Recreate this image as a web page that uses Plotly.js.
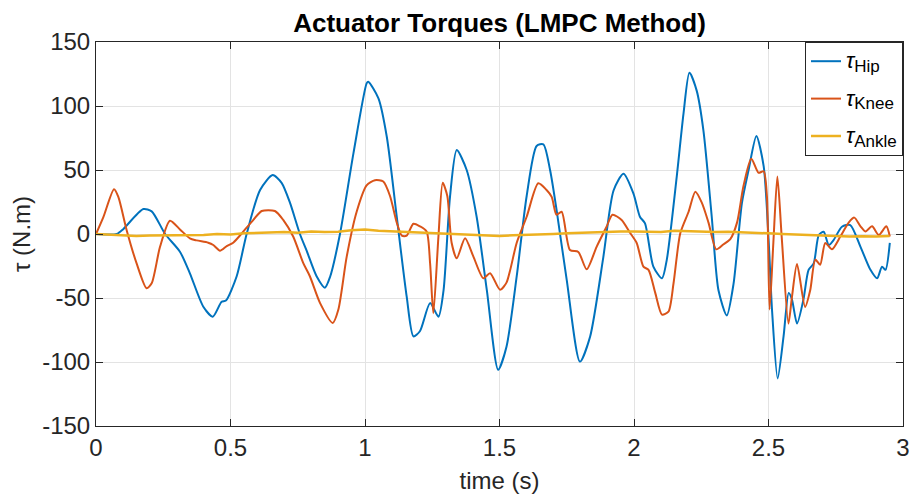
<!DOCTYPE html>
<html>
<head>
<meta charset="utf-8">
<script src="https://cdn.plot.ly/plotly-3.0.1.min.js"></script>
<style>html,body{margin:0;padding:0;background:#fff;}#chart{width:912px;height:502px;}</style>
</head>
<body>
<div id="chart"></div>
<script>
// Hip torque (blue)
const hipT = [0,0.077,0.102,0.176,0.207,0.257,0.312,0.349,0.399,0.434,0.467,0.483,0.523,0.560,0.610,0.657,0.690,0.721,0.758,0.783,0.820,0.851,0.870,0.907,0.957,1.006,1.012,1.050,1.081,1.118,1.155,1.180,1.204,1.242,1.273,1.292,1.316,1.341,1.378,1.415,1.453,1.495,1.526,1.564,1.601,1.638,1.663,1.688,1.712,1.750,1.799,1.837,1.886,1.924,1.961,1.998,2.022,2.041,2.072,2.104,2.122,2.159,2.184,2.206,2.233,2.258,2.289,2.314,2.345,2.370,2.401,2.426,2.455,2.482,2.501,2.513,2.534,2.556,2.575,2.587,2.606,2.630,2.649,2.668,2.687,2.705,2.724,2.742,2.773,2.804,2.842,2.879,2.904,2.922,2.935,2.951];
const hipV = [0,0,4,19.5,17.7,0,-13.8,-30.7,-56.8,-64.6,-52.9,-52,-33,0,34.4,46,40,24.5,0,-13,-33,-41.9,-33.6,0,63,117.7,119,106,76,13.5,-49,-80,-76,-54,-64.6,-44,29,65.6,50,13.5,-44,-106,-88,-33,29.7,68.8,70,50,19,-36,-99.7,-80,-18,34,47,31.5,13.5,8.3,-25.5,-34.6,-20,45,94,126,112,81,13.5,-44,-63.6,-39,24,50,76.6,53,-7,-59,-112.8,-80,-46,-51,-70,-51,-28,-23,-0.8,1.8,-8.6,-4.7,5.7,7,-10,-28,-34.6,-25.5,-28,-7];

// Knee torque (orange)
const kneeT = [0,0.027,0.067,0.083,0.114,0.151,0.188,0.207,0.238,0.275,0.312,0.349,0.374,0.417,0.436,0.461,0.486,0.510,0.548,0.585,0.616,0.665,0.696,0.733,0.771,0.795,0.833,0.880,0.901,0.932,0.969,1.006,1.037,1.068,1.093,1.118,1.137,1.155,1.180,1.204,1.229,1.242,1.254,1.273,1.289,1.306,1.322,1.341,1.372,1.403,1.440,1.465,1.502,1.526,1.564,1.601,1.644,1.675,1.694,1.712,1.731,1.762,1.793,1.824,1.861,1.898,1.920,1.954,1.985,2.010,2.035,2.054,2.079,2.104,2.128,2.147,2.172,2.203,2.228,2.252,2.277,2.306,2.333,2.358,2.383,2.407,2.436,2.463,2.482,2.494,2.504,2.518,2.533,2.549,2.574,2.587,2.606,2.636,2.655,2.674,2.692,2.711,2.736,2.767,2.798,2.819,2.842,2.860,2.885,2.910,2.938,2.951];
const kneeV = [0,13,35,29,3,-23,-42.4,-38.5,-10,10.4,3.6,-3.4,-5,-6.8,-8.6,-13,-9.4,-6.8,2,11,18,18,11,-2,-23,-33,-54,-69.5,-59,-17.7,17.4,38,42,41,29.7,9,-1.3,-1.3,8,6,2,-23,-62,-2,40,29.7,-6.8,-19,-3.4,-17.7,-34.6,-30.7,-43.6,-38,-6.8,13.5,39.6,34.4,29,15,17.4,-12.5,-14,-27.6,-10,5.7,15,11,1,-7,-25.5,-28,-46,-63,-60.7,-38.5,0.5,17.4,33,24.5,8.9,-12,-8,-4,8.9,37.5,58.8,47.8,49,29.7,-59,-7,45,-2,-70,-49.5,-23.5,-57,-44,-20,-24,-7,-12,-2,8.9,12.8,6,2,6,-0.8,6,-2];

// Ankle torque (yellow)
const ankleT = [0,0.05,0.1,0.15,0.2,0.25,0.3,0.35,0.4,0.45,0.5,0.55,0.6,0.65,0.7,0.75,0.8,0.85,0.9,0.95,1.0,1.05,1.1,1.15,1.2,1.25,1.3,1.35,1.4,1.45,1.5,1.55,1.6,1.65,1.7,1.75,1.8,1.85,1.9,1.95,2.0,2.05,2.1,2.15,2.2,2.25,2.3,2.35,2.4,2.45,2.5,2.55,2.6,2.65,2.7,2.75,2.8,2.85,2.9,2.95];
const ankleV = [0,-0.5,-1,-1.5,-1.2,-1,-1,-0.5,-0.8,0,-0.3,0.5,0.8,1,1.5,1,2,1.5,1.8,3,3.5,2.5,2,1.5,1,0.5,0,-0.5,-1,-1.2,-1.5,-1,-0.8,-0.5,0,0.5,1,1.2,1.5,2,2,1.5,1.5,2.5,2,2,1.5,1.8,1.5,1.2,0.5,0,-0.5,-1,-1,-1.5,-2,-1.8,-2,-1.5];

const subNames = ['Hip','Knee','Ankle'];
const seriesNames = subNames.map(s => '<span style="font-size:22px"><i>τ</i></span><sub><span style="font-size:17px">' + s + '</span></sub>');
const xTicks = [0,0.5,1,1.5,2,2.5,3];
const xTickText = ['0','0.5','1','1.5','2','2.5','3'];
const yTicks = [-150,-100,-50,0,50,100,150];
const yTickText = ['-150','-100','-50','0','50','100','150'];

const FONT = 'Liberation Sans, Arial, sans-serif';
const colors = ['#0072BD','#D95319','#EDB120'];
const traces = [
  {x: hipT, y: hipV, name: seriesNames[0], legendgroup:'a', mode:'lines', line:{color:colors[0], width:2, shape:'spline', smoothing:0.7}},
  {x: kneeT, y: kneeV, name: seriesNames[1], legendgroup:'b', mode:'lines', line:{color:colors[1], width:2, shape:'spline', smoothing:0.7}},
  {x: ankleT, y: ankleV, name: seriesNames[2], legendgroup:'c', mode:'lines', line:{color:colors[2], width:2.5}}
];

const layout = {
  width:912, height:502,
  margin:{l:96, r:9, t:42, b:76},
  paper_bgcolor:'#fff', plot_bgcolor:'#fff',
  title:{text:'<b>Actuator Torques (LMPC Method)</b>', x:0.5, xref:'paper', y:0.955, yanchor:'middle',
         font:{family:FONT, size:26, color:'#000'}},
  xaxis:{range:[0,3], tickvals:xTicks, ticktext:xTickText,
         showline:true, linecolor:'#262626', linewidth:1, mirror:'ticks',
         ticks:'inside', ticklen:7, tickcolor:'#262626',
         showgrid:true, gridcolor:'#e3e3e3', gridwidth:1, zeroline:false,
         tickfont:{family:FONT, size:24, color:'#262626'},
         title:{text:'time (s)', standoff:12, font:{family:FONT, size:24, color:'#262626'}}},
  yaxis:{range:[-150,150], tickvals:yTicks, ticktext:yTickText,
         showline:true, linecolor:'#262626', linewidth:1, mirror:'ticks',
         ticks:'inside', ticklen:7, tickcolor:'#262626',
         showgrid:true, gridcolor:'#e3e3e3', gridwidth:1, zeroline:false,
         tickfont:{family:FONT, size:24, color:'#262626'},
         title:{text:'τ (N.m)', standoff:4, font:{family:FONT, size:24, color:'#262626'}}},
  showlegend:true,
  legend:{x:1, y:1, xanchor:'right', yanchor:'top', bgcolor:'#fff', bordercolor:'#262626', borderwidth:1,
          font:{family:FONT, size:18, color:'#000'}, itemwidth:30, tracegroupgap:11}
};

Plotly.newPlot('chart', traces, layout, {displayModeBar:false, staticPlot:true});
</script>
</body>
</html>
